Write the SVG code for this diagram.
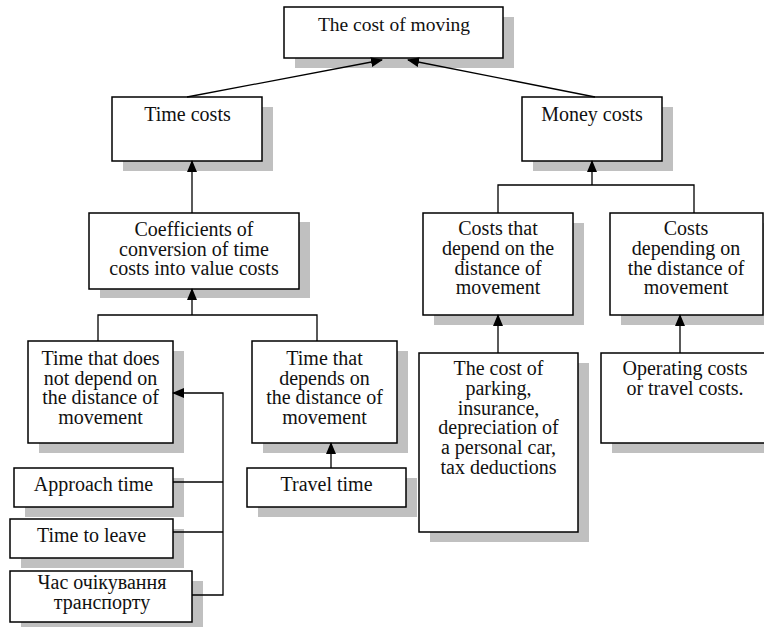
<svg xmlns="http://www.w3.org/2000/svg" width="764" height="627" viewBox="0 0 764 627">
<style>
.sh{fill:#c0c0c0;stroke:none}
.bx{fill:#fff;stroke:#000;stroke-width:1.5}
.t{font-family:"Liberation Serif","Times New Roman",serif;font-size:20px;fill:#111;text-anchor:middle}
.c{fill:none;stroke:#000;stroke-width:1.3}
</style>
<defs>
<marker id="ah" markerUnits="userSpaceOnUse" markerWidth="12" markerHeight="10" refX="11" refY="5" orient="auto">
<path d="M0,0 L12,5 L0,10 Z" fill="#000"/>
</marker>
</defs>
<rect width="764" height="627" fill="#fff"/>
<g id="n-top">
<rect class="sh" x="295" y="17" width="219" height="51"/>
<rect class="bx" x="284" y="7" width="219" height="51"/>
<text class="t" x="394" y="31" style="font-size:19.5px">The cost of moving</text>
</g>
<g id="n-time">
<rect class="sh" x="123" y="107" width="150" height="64"/>
<rect class="bx" x="112" y="97" width="150" height="64"/>
<text class="t" x="187.5" y="121">Time costs</text>
</g>
<g id="n-money">
<rect class="sh" x="533" y="107" width="140" height="64"/>
<rect class="bx" x="522" y="97" width="140" height="64"/>
<text class="t" x="592" y="121">Money costs</text>
</g>
<g id="n-coef">
<rect class="sh" x="100" y="222" width="210" height="76"/>
<rect class="bx" x="89" y="213" width="210" height="76"/>
<text class="t" x="194" y="236">Coefficients of</text>
<text class="t" x="194" y="255.5">conversion of time</text>
<text class="t" x="194" y="275">costs into value costs</text>
</g>
<g id="n-cdep">
<rect class="sh" x="434" y="223" width="150" height="102"/>
<rect class="bx" x="423" y="213" width="150" height="102"/>
<text class="t" x="498" y="235">Costs that</text>
<text class="t" x="498" y="255">depend on the</text>
<text class="t" x="498" y="275">distance of</text>
<text class="t" x="498" y="294">movement</text>
</g>
<g id="n-cdep2">
<rect class="sh" x="621" y="223" width="153" height="102"/>
<rect class="bx" x="610" y="213" width="153" height="102"/>
<text class="t" x="686" y="235">Costs</text>
<text class="t" x="686" y="255">depending on</text>
<text class="t" x="686" y="275">the distance of</text>
<text class="t" x="686" y="294">movement</text>
</g>
<g id="n-tnd">
<rect class="sh" x="39" y="351" width="145" height="102"/>
<rect class="bx" x="28" y="341" width="145" height="102"/>
<text class="t" x="100.5" y="365">Time that does</text>
<text class="t" x="100.5" y="384.5">not depend on</text>
<text class="t" x="100.5" y="404">the distance of</text>
<text class="t" x="100.5" y="423.5">movement</text>
</g>
<g id="n-td">
<rect class="sh" x="263" y="351" width="145" height="102"/>
<rect class="bx" x="252" y="341" width="145" height="102"/>
<text class="t" x="324.5" y="365">Time that</text>
<text class="t" x="324.5" y="384.5">depends on</text>
<text class="t" x="324.5" y="404">the distance of</text>
<text class="t" x="324.5" y="423.5">movement</text>
</g>
<g id="n-park">
<rect class="sh" x="430" y="363" width="159" height="179"/>
<rect class="bx" x="419" y="353" width="159" height="179"/>
<text class="t" x="498.5" y="375">The cost of</text>
<text class="t" x="498.5" y="395">parking,</text>
<text class="t" x="498.5" y="414.5">insurance,</text>
<text class="t" x="498.5" y="434">depreciation of</text>
<text class="t" x="498.5" y="454">a personal car,</text>
<text class="t" x="498.5" y="473.5">tax deductions</text>
</g>
<g id="n-oper">
<rect class="sh" x="612" y="363" width="170" height="90"/>
<rect class="bx" x="601" y="353" width="170" height="90"/>
<text class="t" x="685" y="375">Operating costs</text>
<text class="t" x="685" y="394.5">or travel costs.</text>
</g>
<g id="n-appr">
<rect class="sh" x="25" y="478" width="159" height="39"/>
<rect class="bx" x="14" y="468" width="159" height="39"/>
<text class="t" x="93.5" y="491">Approach time</text>
</g>
<g id="n-leave">
<rect class="sh" x="21" y="529" width="163" height="39"/>
<rect class="bx" x="10" y="519" width="163" height="39"/>
<text class="t" x="91.5" y="542">Time to leave</text>
</g>
<g id="n-wait">
<rect class="sh" x="21" y="581" width="182" height="51"/>
<rect class="bx" x="10" y="571" width="182" height="51"/>
<text class="t" x="102" y="589">Час очікування</text>
<text class="t" x="102" y="608.5">транспорту</text>
</g>
<g id="n-travel">
<rect class="sh" x="258" y="478" width="159" height="39"/>
<rect class="bx" x="247" y="468" width="159" height="39"/>
<text class="t" x="326.5" y="491">Travel time</text>
</g>
<g id="connectors">
<line class="c" x1="187" y1="97" x2="382" y2="60" marker-end="url(#ah)"/>
<line class="c" x1="595" y1="97" x2="408" y2="60" marker-end="url(#ah)"/>
<line class="c" x1="192" y1="213" x2="192" y2="161" marker-end="url(#ah)"/>
<line class="c" x1="592" y1="185" x2="592" y2="161" marker-end="url(#ah)"/>
<polyline class="c" points="498,213 498,185 694,185 694,213"/>
<line class="c" x1="192" y1="315" x2="192" y2="289" marker-end="url(#ah)"/>
<polyline class="c" points="98,341 98,315 317,315 317,341"/>
<line class="c" x1="173" y1="482" x2="223" y2="482"/>
<line class="c" x1="173" y1="532" x2="223" y2="532"/>
<polyline class="c" points="192,595 223,595 223,393 173,393" marker-end="url(#ah)"/>
<line class="c" x1="331" y1="468" x2="331" y2="443" marker-end="url(#ah)"/>
<line class="c" x1="498" y1="353" x2="498" y2="315" marker-end="url(#ah)"/>
<line class="c" x1="680" y1="353" x2="680" y2="315" marker-end="url(#ah)"/>
</g>
</svg>
